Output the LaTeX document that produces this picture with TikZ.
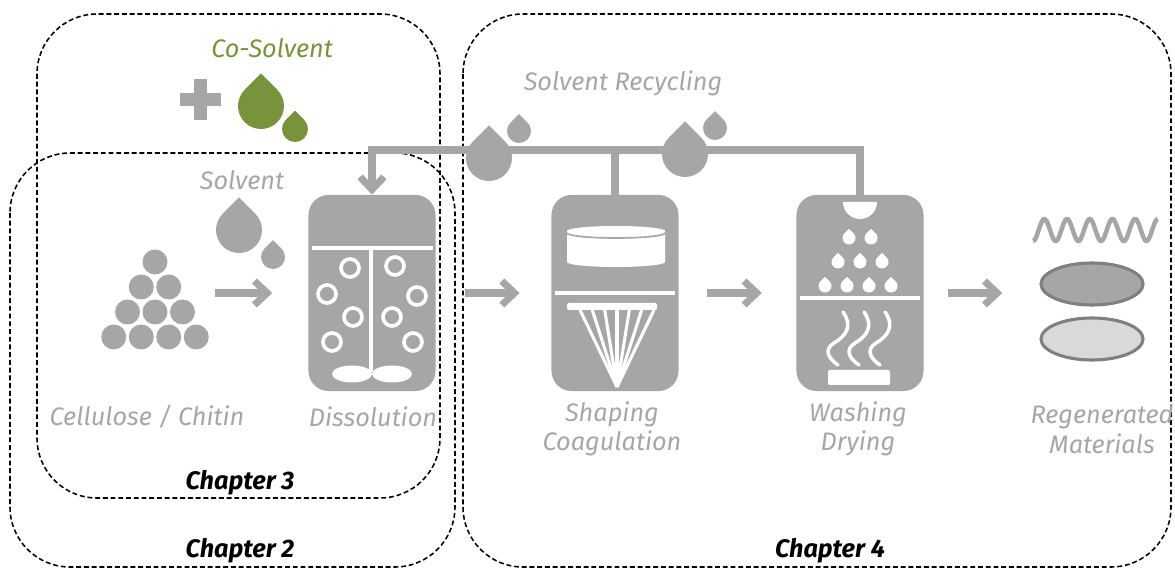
\documentclass[tikz,border=0pt]{standalone}
\usepackage{fontspec}
\setmainfont{Fira Sans}
\usetikzlibrary{arrows.meta,shapes.geometric,positioning}
\definecolor{tankgray}{HTML}{A6A6A6}
\definecolor{rimgray}{HTML}{7F7F7F}
\definecolor{palegray}{HTML}{D9D9D9}
\definecolor{leafgreen}{HTML}{77933C}
\tikzset{
     tank/.style={fill=tankgray, rounded corners=0.5cm, minimum width=3.175cm, minimum height=4.9cm},
     film/.style={ellipse, draw=rimgray, line width=2.2pt, minimum width=2.55cm, minimum height=1.05cm},
     flow/.style={draw=tankgray, line width=5pt, -{Straight Barb[length=9pt, width=17pt]}},
     pipe/.style={draw=tankgray, line width=5pt},
     chapbox/.style={black, line width=1.1pt, dash pattern=on 3.5pt off 2pt, rounded corners=1.5cm},
     steplabel/.style={text=tankgray, font=\itshape\fontsize{18}{21}\selectfont, align=center},
     chaplabel/.style={font=\bfseries\itshape\fontsize{18}{21}\selectfont},
     ring/.style={draw=white, line width=2.6pt},
     detail/.style={draw=white, line width=2.5pt},
     pics/drop/.style={code={
        \fill (0,-1.414) -- (-45:1) arc[start angle=-45, end angle=225, radius=1] -- cycle;
     }},
}

\begin{document}
\begin{tikzpicture}[x=0.025cm, y=-0.025cm]
\useasboundingbox (0,0) rectangle (1175,569);

% chapter frames
\draw[chapbox] (37,14) rectangle (440,498);
\draw[chapbox] (10,153) rectangle (455,567);
\draw[chapbox] (463,14) rectangle (1171,567);
\node[chaplabel] (ch3) at (240,483) {Chapter 3};
\node[chaplabel] (ch2) at (240,551) {Chapter 2};
\node[chaplabel] (ch4) at (830,551) {Chapter 4};

% co-solvent
\node[steplabel, text=leafgreen] (cosolv) at (272,48) {Co-Solvent};
\fill[tankgray] (180,93.5) rectangle (221,106.5);
\fill[tankgray] (194,79) rectangle (207,120);
\pic[leafgreen, scale=23] at (261,106) {drop};
\pic[leafgreen, scale=13] at (295,129) {drop};

% solvent
\node[steplabel] (solv) at (242,180) {Solvent};
\pic[tankgray, scale=23] at (239,230) {drop};
\pic[tankgray, scale=12] at (273,257) {drop};

% cellulose / chitin pile
\foreach \r in {0,...,3}
  \foreach \c in {0,...,\r}
    \fill[tankgray] ({155-13.75*\r+27.5*\c},{262+25*\r}) circle (12.5);
\coordinate (pile) at (215,293);

% process vessels
\node[tank] (diss) at (372,293) {};
\node[tank] (coag) at (615,293) {};
\node[tank] (wash) at (860,293) {};

% regenerated films
\node[film, fill=tankgray] (film1) at (1092,284) {};
\node[film, fill=palegray] (film2) at (1092,339) {};
\draw[tankgray, line width=3.2pt] plot[domain=0:5.5, samples=120, smooth] ({1033+22.7*\x},{230+11*cos(360*\x)});

% main flow
\draw[flow, shorten >=0.9cm] (pile) -- (diss.west);
\draw[flow, shorten <=0.72cm, shorten >=0.79cm] (diss) -- (coag);
\draw[flow, shorten <=0.71cm, shorten >=0.86cm] (coag) -- (wash);
\draw[flow, shorten <=0.61cm, shorten >=0.93cm] (wash.east) -- (wash.east -| film1.west);

% solvent recycling loop
\coordinate (loop) at (0,150);
\draw[flow] (wash.north) -- (wash.north |- loop) -- (diss.north |- loop) -- (diss.north);
\draw[pipe] (coag.north) -- (coag.north |- loop);
\pic[tankgray, scale=23] at (489,158) {drop};
\pic[tankgray, scale=12] at (519,131) {drop};
\pic[tankgray, scale=23] at (685,154) {drop};
\pic[tankgray, scale=12] at (715,128) {drop};
\node[steplabel] (recyc) at (623,83) {Solvent Recycling};

% dissolution: stirrer and bubbles
\draw[detail] (312,248) -- (433,248);
\draw[detail] (371,248) -- (371,372);
\fill[white] (352,374) ellipse[x radius=20, y radius=8.5];
\fill[white] (392,374) ellipse[x radius=20, y radius=8.5];
\foreach \p in {(350,268),(395,266),(327,294),(417,296),(353,317),(392,317),(332,342),(413,342)}
  \draw[ring] \p circle (9);

% shaping: bath and spinneret
\fill[white] (567,231) -- (567,262) arc[start angle=180, end angle=0, x radius=49, y radius=5]
  -- (665,231) arc[start angle=0, end angle=-180, x radius=49, y radius=5] -- cycle;
\draw[tankgray, line width=1.2pt] (567,233) arc[start angle=180, end angle=0, x radius=49, y radius=5];
\draw[detail] (555,293) -- (675,293);
\fill[white, rounded corners=1.5pt] (567,303) rectangle (657,310);
\foreach \x in {580,592.3,604.7,617,629.3,641.7,654}
  \draw[white, line width=2.2pt] (\x,310) -- (617,387);

% washing: shower head, droplets, heater
\fill[white] (843,202) arc[start angle=180, end angle=0, radius=17];
\foreach \p in {(849,238),(871,238),(838,262),(860,262),(882,262),(825,286),(847,286),(869,286),(891,286)}
  \pic[white, scale=6.5] at \p {drop};
\draw[detail] (800,298) -- (920,298);
\foreach \s in {0,21,42}
  \draw[detail, line cap=round] (843+\s,312) .. controls (853+\s,326) and (846+\s,336) .. (834+\s,343)
    .. controls (823+\s,350) and (829+\s,359) .. (838+\s,365);
\fill[white, rounded corners=1pt] (828,370) rectangle (890,385);

% step labels
\node[steplabel] (cell) at (147,417) {Cellulose / Chitin};
\node[steplabel] (dissl) at (373,417) {Dissolution};
\node[steplabel] (coagl) at (612,429) {Shaping\\Coagulation};
\node[steplabel] (washl) at (858,429) {Washing\\Drying};
\node[steplabel] (regen) at (1102,429) {Regenerated\\Materials};
\end{tikzpicture}
\end{document}
